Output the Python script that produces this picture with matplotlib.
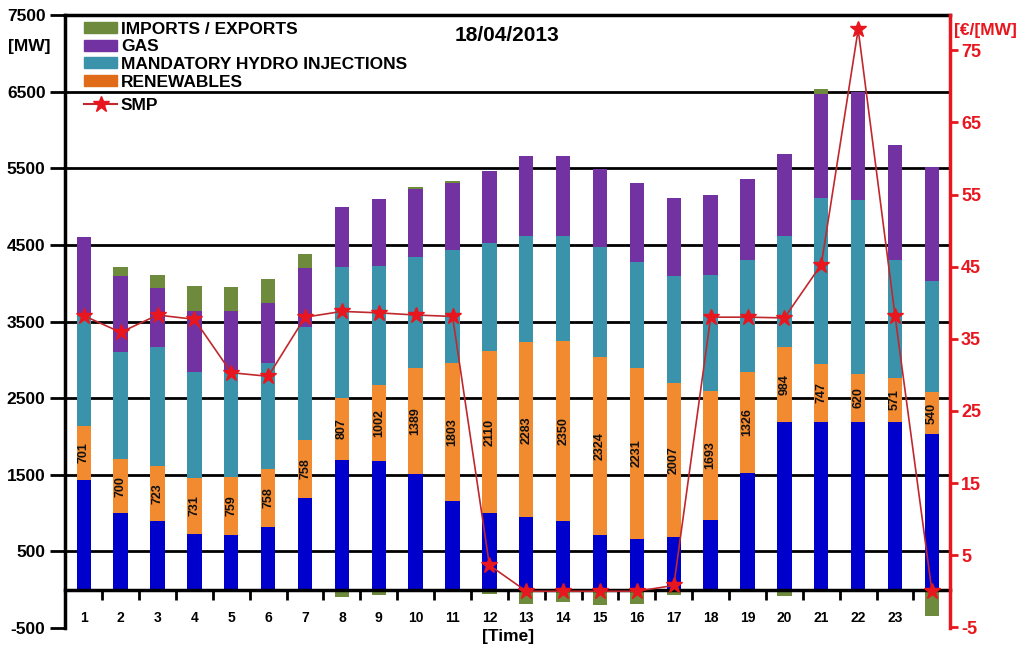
import matplotlib
matplotlib.use("Agg")
import matplotlib.pyplot as plt
from matplotlib.patches import Patch
from matplotlib.lines import Line2D
import numpy as np

plt.rcParams['font.family'] = ['Liberation Sans', 'DejaVu Sans']
plt.rcParams['font.weight'] = 'bold'

hours = list(range(1, 25))
hour_labels = [str(h) for h in range(1, 24)] + [""]
base_blue = [1434, 1000, 891, 730, 717, 817, 1195, 1695, 1673, 1508, 1151, 1000,
             943, 891, 717, 661, 687, 904, 1521, 2183, 2193, 2193, 2193, 2035]
renewables = [701, 700, 723, 731, 759, 758, 758, 807, 1002, 1389, 1803, 2110,
              2283, 2350, 2324, 2231, 2007, 1693, 1326, 984, 747, 620, 571, 540]
hydro = [1459, 1407, 1558, 1386, 1384, 1389, 1480, 1713, 1553, 1448, 1479, 1410,
         1389, 1374, 1427, 1389, 1404, 1510, 1455, 1454, 2172, 2278, 1538, 1455]
gas = [1004, 991, 761, 791, 778, 774, 769, 782, 866, 879, 877, 947,
       1043, 1047, 1017, 1029, 1017, 1043, 1053, 1065, 1356, 1399, 1500, 1482]
imports = [-25, 109, 174, 330, 317, 317, 175, -100, -74, 25, 20, -50,
           -187, -160, -195, -183, -74, 0, 0, -80, 64, 0, 0, -347]
smp = [38.2, 35.9, 38.3, 37.7, 30.3, 29.8, 38.0, 38.8, 38.6, 38.3, 38.1, 3.6,
       0.0, 0.0, 0.0, 0.0, 0.8, 38.0, 38.0, 37.9, 45.3, 77.9, 38.2, 0.0]
left_ticks = [-500, 500, 1500, 2500, 3500, 4500, 5500, 6500, 7500]
right_ticks = [-5, 5, 15, 25, 35, 45, 55, 65, 75]

c_blue = '#0000CC'
c_ren = '#F28A30'
c_hyd = '#3A93AA'
c_gas = '#7232A2'
c_imp = '#6E8A3C'
c_red = '#E8161E'
c_line = '#C0282D'

fig = plt.figure(figsize=(10.24, 6.55), dpi=100)
ax = fig.add_axes([65/1024, 1-628/655, (950-65)/1024, (628-15)/655])

x = np.array(hours, dtype=float)
w = 0.39
b = np.array(base_blue, dtype=float)
r = np.array(renewables, dtype=float)
h = np.array(hydro, dtype=float)
g = np.array(gas, dtype=float)
im = np.array(imports, dtype=float)

ax.bar(x, b, w, color=c_blue, zorder=1)
ax.bar(x, r, w, bottom=b, color=c_ren, zorder=1)
ax.bar(x, h, w, bottom=b + r, color=c_hyd, zorder=1)
ax.bar(x, g, w, bottom=b + r + h, color=c_gas, zorder=1)
top = b + r + h + g
ax.bar(x, im, w, bottom=np.where(im > 0, top, 0), color=c_imp, zorder=1)

for xi, bi, ri in zip(x, b, r):
    ax.text(xi, bi + ri / 2, f"{int(ri)}", rotation=90, ha='center', va='center',
            fontsize=9, fontweight='bold', color='#111111', zorder=3)

ax.set_xlim(0.49, 24.49)
ax.set_ylim(-500, 7500)
ax.set_yticks(left_ticks)
ax.set_yticklabels([str(v) for v in left_ticks], fontsize=12.5, fontweight='bold')
ax.yaxis.grid(True, color='black', linewidth=2)
ax.set_axisbelow(True)
gl = ax.get_ygridlines()
gl[0].set_visible(False)
ax.tick_params(axis='y', direction='out', length=11, width=2, pad=3)

ax.set_xticks(x)
ax.set_xticklabels(hour_labels, fontsize=13, fontweight='bold')
ax.set_xticks(x[:-1] + 0.5, minor=True)
ax.tick_params(axis='x', which='major', length=0, pad=15)
ax.tick_params(axis='x', which='minor', direction='out', length=7, width=2)

ax.spines['bottom'].set_position(('data', 0))
ax.spines['bottom'].set_linewidth(2.5)
ax.spines['left'].set_linewidth(2.5)
ax.spines['top'].set_linewidth(2.5)
ax.spines['right'].set_visible(False)

ax2 = ax.twinx()
ax2.set_ylim(-5.1, 79.9)
ax2.plot(x, smp, color=c_line, linewidth=1.2, marker='*', markersize=12,
         markerfacecolor=c_red, markeredgecolor=c_red, zorder=4)
ax2.set_yticks(right_ticks)
ax2.set_yticklabels([str(v) for v in right_ticks], fontsize=13, fontweight='bold', color=c_red)
ax2.tick_params(axis='y', colors=c_red, direction='out', length=6, width=2, pad=2)
for s in ['top', 'left', 'bottom']:
    ax2.spines[s].set_visible(False)
ax2.spines['right'].set_color(c_red)
ax2.spines['right'].set_linewidth(2.5)

handles = [Patch(color=c_imp), Patch(color=c_gas), Patch(color=c_hyd), Patch(color='#E06C1A')]
labels = ['IMPORTS / EXPORTS', 'GAS', 'MANDATORY HYDRO INJECTIONS', 'RENEWABLES']
leg1 = ax2.legend(handles, labels, loc='upper left', bbox_to_anchor=(0.021, 0.989),
                  frameon=False, fontsize=12.5, labelspacing=0.15, handlelength=1.95,
                  handleheight=0.6, handletextpad=0.2, borderaxespad=0, borderpad=0)
ax2.add_artist(leg1)
leg2 = ax2.legend([Line2D([], [], color=c_line, lw=1.5, marker='*', markersize=12,
                          markerfacecolor=c_red, markeredgecolor=c_red)], ['SMP'],
                  loc='upper left', bbox_to_anchor=(0.021, 0.865), frameon=False,
                  fontsize=12.5, handlelength=1.95, handletextpad=0.2,
                  borderaxespad=0, borderpad=0)

ax.text(0.5, 0.967, '18/04/2013', transform=ax.transAxes, ha='center', va='center',
        fontsize=15, fontweight='bold')
fig.text(29/1024, 1-46/655, '[MW]', ha='center', va='center', fontsize=12.5, fontweight='bold')
fig.text(985/1024, 1-30/655, '[€/[MW]', ha='center', va='center', fontsize=12.5,
         fontweight='bold', color=c_red)
fig.text(508/1024, 1-636/655, '[Time]', ha='center', va='center', fontsize=12.5, fontweight='bold')

fig.savefig('out.png', dpi=100)
